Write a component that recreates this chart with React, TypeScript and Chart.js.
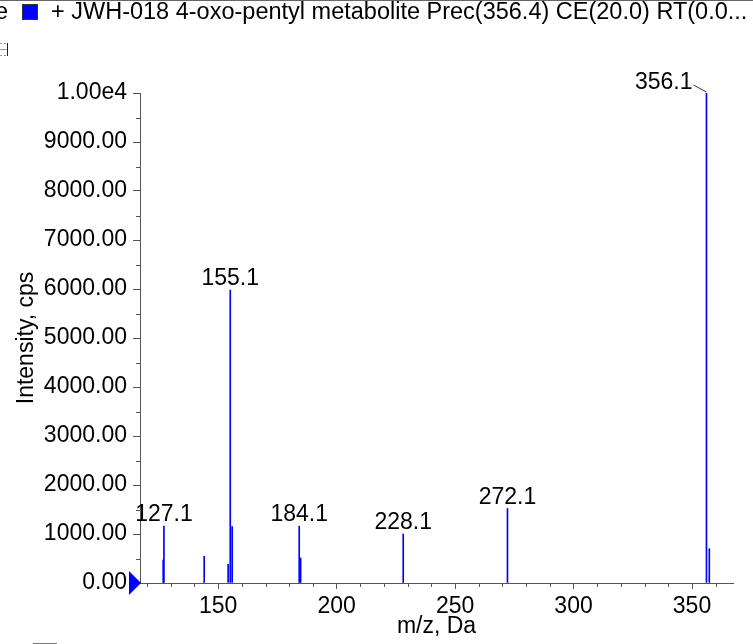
import React, { useEffect, useRef } from 'react';
import { Chart, registerables } from 'chart.js';

Chart.register(...registerables);

// ---- data ----
const mzValues = [126.8, 127.1, 144.1, 154.2, 155.1, 155.9, 184.2, 184.8, 228.1, 272.1, 356.1, 357.3];
const intensities = [470, 1160, 545, 380, 5980, 1150, 1160, 510, 1000, 1520, 10000, 700];
const peakLabels = ['127.1', '155.1', '184.1', '228.1', '272.1', '356.1'];
const labelMz = [127.1, 155.1, 184.2, 228.1, 272.1, 356.1];
const labelIntensity = [1160, 5980, 1160, 1000, 1520, 10000];
const xMajorTicks = [150, 200, 250, 300, 350];
const xMinorTicks = [120, 130, 140, 160, 170, 180, 190, 210, 220, 230, 240, 260, 270, 280, 290, 310, 320, 330, 340, 360];
const yMajorTicks = [0, 1000, 2000, 3000, 4000, 5000, 6000, 7000, 8000, 9000, 10000];
const yTickLabels = ['0.00', '1000.00', '2000.00', '3000.00', '4000.00', '5000.00', '6000.00', '7000.00', '8000.00', '9000.00', '1.00e4'];
const yMinorTicks = [500, 1500, 2500, 3500, 4500, 5500, 6500, 7500, 8500, 9500];
const xRange = [117, 367.3];
const yRange = [0, 10000];
const legendText = '+ JWH-018 4-oxo-pentyl metabolite Prec(356.4) CE(20.0) RT(0.0...';
const xTitle = 'm/z, Da';
const yTitle = 'Intensity, cps';

const FONT = '"Liberation Sans", Arial, sans-serif';
const AXIS = '#555555';

const decorPlugin = {
  id: 'decor',
  afterDraw(chart: any) {
    const ctx = chart.ctx;
    const xs = chart.scales.x;
    const ys = chart.scales.y;
    const area = chart.chartArea;
    ctx.save();
    // minor ticks
    ctx.strokeStyle = AXIS;
    ctx.lineWidth = 1;
    ctx.beginPath();
    yMinorTicks.forEach((v) => {
      const py = Math.round(ys.getPixelForValue(v)) + 0.5;
      ctx.moveTo(area.left - 4, py);
      ctx.lineTo(area.left, py);
    });
    xMinorTicks.forEach((v) => {
      const px = Math.round(xs.getPixelForValue(v)) + 0.5;
      ctx.moveTo(px, area.bottom);
      ctx.lineTo(px, area.bottom + 4);
    });
    ctx.stroke();

    // precursor triangle
    const y0 = ys.getPixelForValue(0);
    ctx.fillStyle = '#0000ff';
    ctx.beginPath();
    ctx.moveTo(area.left - 11, y0 - 12);
    ctx.lineTo(area.left + 1, y0);
    ctx.lineTo(area.left - 11, y0 + 12);
    ctx.closePath();
    ctx.fill();

    // peak labels
    ctx.fillStyle = '#000';
    ctx.font = `23px ${FONT}`;
    ctx.textBaseline = 'alphabetic';
    peakLabels.forEach((t, i) => {
      const px = xs.getPixelForValue(labelMz[i]);
      const py = ys.getPixelForValue(labelIntensity[i]);
      if (i === peakLabels.length - 1) {
        ctx.textAlign = 'right';
        ctx.fillText(t, px - 14, py - 4);
        ctx.strokeStyle = '#333';
        ctx.beginPath();
        ctx.moveTo(px - 13, py - 8);
        ctx.lineTo(px, py - 1);
        ctx.stroke();
      } else {
        ctx.textAlign = 'center';
        ctx.fillText(t, px, py - 5);
      }
    });

    // axis titles
    ctx.font = `23px ${FONT}`;
    ctx.textAlign = 'center';
    ctx.textBaseline = 'middle';
    ctx.fillText(xTitle, (area.left + area.right) / 2, 627);
    ctx.save();
    ctx.translate(27, (area.top + area.bottom) / 2);
    ctx.rotate(-Math.PI / 2);
    ctx.fillText(yTitle, 0, 0);
    ctx.restore();

    // top legend
    ctx.strokeStyle = '#666';
    ctx.beginPath();
    ctx.moveTo(0, 0.5);
    ctx.lineTo(753, 0.5);
    ctx.stroke();
    ctx.fillStyle = '#0000ff';
    ctx.fillRect(23, 5, 14, 14);
    ctx.strokeStyle = '#333';
    ctx.strokeRect(22.5, 4.5, 15, 15);
    ctx.fillStyle = '#000';
    ctx.font = `23.5px ${FONT}`;
    ctx.textAlign = 'left';
    ctx.textBaseline = 'middle';
    ctx.fillText(legendText, 51, 13);
    ctx.textAlign = 'right';
    ctx.fillText('e', 8, 13);

    // small collapse glyph
    ctx.strokeStyle = '#999';
    ctx.setLineDash([2, 2]);
    ctx.beginPath();
    ctx.moveTo(0, 43.5);
    ctx.lineTo(7, 43.5);
    ctx.moveTo(0, 55.5);
    ctx.lineTo(7, 55.5);
    ctx.stroke();
    ctx.setLineDash([]);
    ctx.beginPath();
    ctx.moveTo(0, 49.5);
    ctx.lineTo(7, 49.5);
    ctx.stroke();
    ctx.strokeStyle = '#222';
    ctx.beginPath();
    ctx.moveTo(7.5, 43);
    ctx.lineTo(7.5, 56);
    ctx.stroke();

    // bottom left fragment
    ctx.strokeStyle = '#777';
    ctx.beginPath();
    ctx.moveTo(33, 643.5);
    ctx.lineTo(57, 643.5);
    ctx.stroke();
    ctx.restore();
  },
};

export default function App() {
  const ref = useRef<HTMLCanvasElement | null>(null);
  useEffect(() => {
    if (!ref.current) return;
    const chart = new Chart(ref.current, {
      type: 'bar',
      data: {
        datasets: [
          {
            data: mzValues.map((x, i) => ({ x, y: intensities[i] })),
            backgroundColor: '#0000ff',
            borderWidth: 0,
            barThickness: 1,
            grouped: false,
          } as any,
        ],
      },
      options: {
        animation: false,
        responsive: true,
        maintainAspectRatio: false,
        devicePixelRatio: 1,
        layout: { padding: { top: 93, right: 20, left: 0, bottom: 0 } },
        plugins: { legend: { display: false }, tooltip: { enabled: false }, title: { display: false } },
        scales: {
          x: {
            type: 'linear',
            offset: false,
            min: xRange[0],
            max: xRange[1],
            afterBuildTicks: (s: any) => {
              s.ticks = xMajorTicks.map((v) => ({ value: v }));
            },
            afterFit: (s: any) => {
              s.height = 61;
            },
            ticks: {
              font: { family: FONT, size: 23 },
              color: '#000',
              padding: 4,
              maxRotation: 0,
              autoSkip: false,
              callback: (v: any) => String(v),
            },
            grid: { display: true, offset: false, drawOnChartArea: false, drawTicks: true, tickLength: 6, color: AXIS },
            border: { display: true, color: AXIS },
          },
          y: {
            type: 'linear',
            min: yRange[0],
            max: yRange[1],
            afterBuildTicks: (s: any) => {
              s.ticks = yMajorTicks.map((v) => ({ value: v }));
            },
            afterFit: (s: any) => {
              s.width = 140;
            },
            ticks: {
              font: { family: FONT, size: 23 },
              color: '#000',
              padding: 6,
              autoSkip: false,
              callback: (v: any) => {
                const i = yMajorTicks.indexOf(Number(v));
                return i >= 0 ? yTickLabels[i] : '';
              },
            },
            grid: { display: true, drawOnChartArea: false, drawTicks: true, tickLength: 7, color: AXIS },
            border: { display: true, color: AXIS },
          },
        },
      } as any,
      plugins: [decorPlugin],
    });
    return () => chart.destroy();
  }, []);
  return (
    <div style={{ position: 'absolute', left: 0, top: 0, width: 753, height: 644, background: '#fff' }}>
      <canvas ref={ref} />
    </div>
  );
}
